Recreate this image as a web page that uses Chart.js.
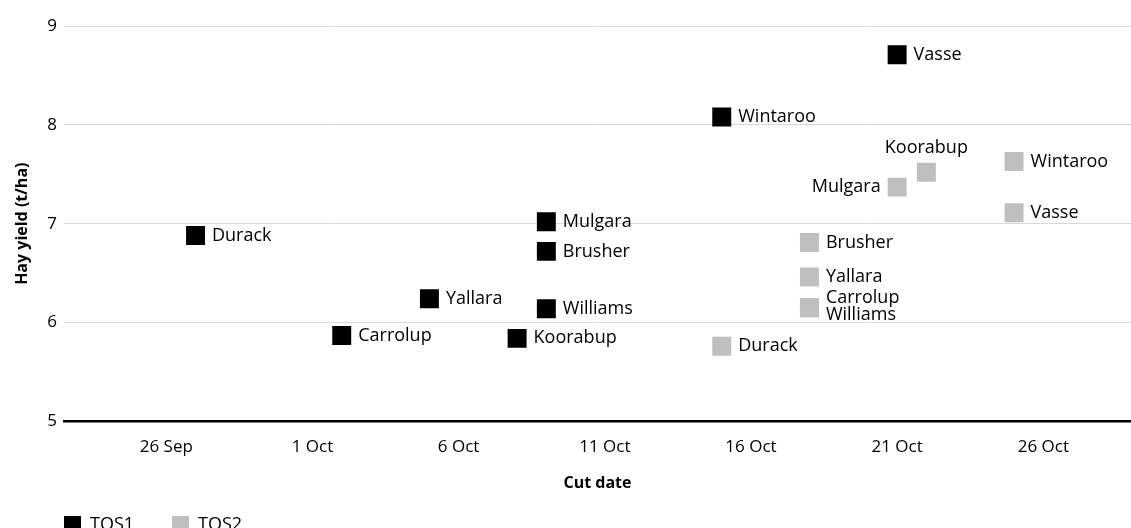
<!DOCTYPE html>
<html lang="en">
<head>
  <meta charset="UTF-8">
  <title>Hay yield by cut date</title>
  <style>
    html, body {
      margin: 0;
      padding: 0;
      background: #fff;
      overflow: hidden;
    }
    #chartBox {
      position: relative;
      width: 1131px;
      height: 584px;
    }
  </style>
</head>
<body>
  <div id="chartBox">
    <canvas id="myChart"></canvas>
  </div>

  <script src="https://cdn.jsdelivr.net/npm/chart.js"></script>
  <script>
    // TOS1 (first time of sowing)
    const names1 = ['Durack', 'Carrolup', 'Yallara', 'Koorabup', 'Mulgara', 'Brusher', 'Williams', 'Wintaroo', 'Vasse'];
    const dates1 = ['27 Sep', '2 Oct', '5 Oct', '8 Oct', '9 Oct', '9 Oct', '9 Oct', '15 Oct', '21 Oct'];
    const yield1 = [6.88, 5.87, 6.24, 5.84, 7.02, 6.72, 6.14, 8.08, 8.71];

    // TOS2 (second time of sowing)
    const names2 = ['Durack', 'Brusher', 'Yallara', 'Carrolup', 'Williams', 'Mulgara', 'Koorabup', 'Wintaroo', 'Vasse'];
    const dates2 = ['15 Oct', '18 Oct', '18 Oct', '18 Oct', '18 Oct', '21 Oct', '22 Oct', '25 Oct', '25 Oct'];
    const yield2 = [5.76, 6.81, 6.46, 6.15, 6.15, 7.37, 7.52, 7.63, 7.11];

    const tickDates = ['26 Sep', '1 Oct', '6 Oct', '11 Oct', '16 Oct', '21 Oct', '26 Oct'];
    const yTicks = [5, 6, 7, 8, 9];

    // where a point label sits, if not to the right of the marker
    const labelPlacement = {
      'TOS2:Mulgara': 'left',
      'TOS2:Koorabup': 'above',
      'TOS2:Carrolup': 'upper',
      'TOS2:Williams': 'lower'
    };

    const monthStart = { Sep: 0, Oct: 30 };
    function dayNum(s) {
      const parts = s.split(' ');
      return monthStart[parts[1]] + parseInt(parts[0], 10);
    }

    function toPoints(names, dates, values) {
      return names.map((n, i) => ({ x: dayNum(dates[i]), y: values[i], name: n }));
    }

    const FONT = '"Open Sans", "Noto Sans", sans-serif';
    const R = 13.4;

    const pointLabels = {
      id: 'pointLabels',
      afterDatasetsDraw(chart) {
        const ctx = chart.ctx;
        ctx.save();
        ctx.font = '18px ' + FONT;
        ctx.fillStyle = '#000';
        const half = R * Math.SQRT1_2;
        chart.data.datasets.forEach((ds, di) => {
          const meta = chart.getDatasetMeta(di);
          meta.data.forEach((pt, i) => {
            const name = ds.data[i].name;
            const where = labelPlacement[ds.label + ':' + name] || 'right';
            let x = pt.x + half + 7;
            let y = pt.y;
            ctx.textAlign = 'left';
            ctx.textBaseline = 'middle';
            if (where === 'left') {
              x = pt.x - half - 7;
              ctx.textAlign = 'right';
            } else if (where === 'above') {
              x = pt.x;
              y = pt.y - half - 10;
              ctx.textAlign = 'center';
              ctx.textBaseline = 'alphabetic';
            } else if (where === 'upper') {
              y = pt.y - 10;
            } else if (where === 'lower') {
              y = pt.y + 7;
            }
            ctx.fillText(name, x, y);
          });
        });
        ctx.restore();
      }
    };

    const legendShift = {
      id: 'legendShift',
      afterLayout(chart) {
        chart.legend.left = 26;
        chart.legend.top = 477.5;
      }
    };

    const ctx = document.getElementById('myChart').getContext('2d');
    new Chart(ctx, {
      type: 'scatter',
      data: {
        datasets: [
          {
            label: 'TOS1',
            data: toPoints(names1, dates1, yield1),
            backgroundColor: '#000000',
            borderWidth: 0,
            pointStyle: 'rect',
            pointRadius: R,
            pointHoverRadius: R
          },
          {
            label: 'TOS2',
            data: toPoints(names2, dates2, yield2),
            backgroundColor: '#bfbfbf',
            borderWidth: 0,
            pointStyle: 'rect',
            pointRadius: R,
            pointHoverRadius: R
          }
        ]
      },
      options: {
        responsive: true,
        maintainAspectRatio: false,
        animation: false,
        layout: {
          autoPadding: false,
          padding: { top: 26, right: 0, bottom: 25, left: 0 }
        },
        plugins: {
          tooltip: { enabled: false },
          legend: {
            position: 'bottom',
            align: 'start',
            labels: {
              boxWidth: 17,
              boxHeight: 17,
              padding: 38,
              color: '#000',
              font: { family: FONT, size: 18 }
            }
          }
        },
        scales: {
          x: {
            type: 'linear',
            min: 22.5,
            max: 59,
            afterBuildTicks: axis => {
              axis.ticks = tickDates.map(d => ({ value: dayNum(d) }));
            },
            afterFit: axis => {
              axis.paddingLeft = 0;
              axis.paddingRight = 0;
            },
            grid: { display: false },
            border: { display: true, color: '#000', width: 2.5 },
            ticks: {
              padding: 8,
              color: '#000',
              font: { family: FONT, size: 17 },
              maxRotation: 0,
              callback: v => {
                const d = tickDates.find(t => dayNum(t) === v);
                return d || '';
              }
            },
            title: {
              display: true,
              text: 'Cut date',
              color: '#000',
              font: { family: FONT, size: 16, weight: 'bold' },
              padding: { top: 8, bottom: 0 }
            }
          },
          y: {
            min: 5,
            max: 9,
            afterBuildTicks: axis => {
              axis.ticks = yTicks.map(v => ({ value: v }));
            },
            afterFit: axis => {
              axis.width = 64;
            },
            grid: {
              color: c => (c.tick && c.tick.value === 5 ? 'rgba(0,0,0,0)' : '#d9d9d9'),
              lineWidth: 1,
              drawTicks: false
            },
            border: { display: false },
            ticks: {
              padding: 7,
              color: '#000',
              font: { family: FONT, size: 17 }
            },
            title: {
              display: true,
              text: 'Hay yield (t/ha)',
              color: '#000',
              font: { family: FONT, size: 16, weight: 'bold' },
              padding: { top: 13, bottom: 15 }
            }
          }
        }
      },
      plugins: [pointLabels, legendShift]
    });
  </script>
</body>
</html>
